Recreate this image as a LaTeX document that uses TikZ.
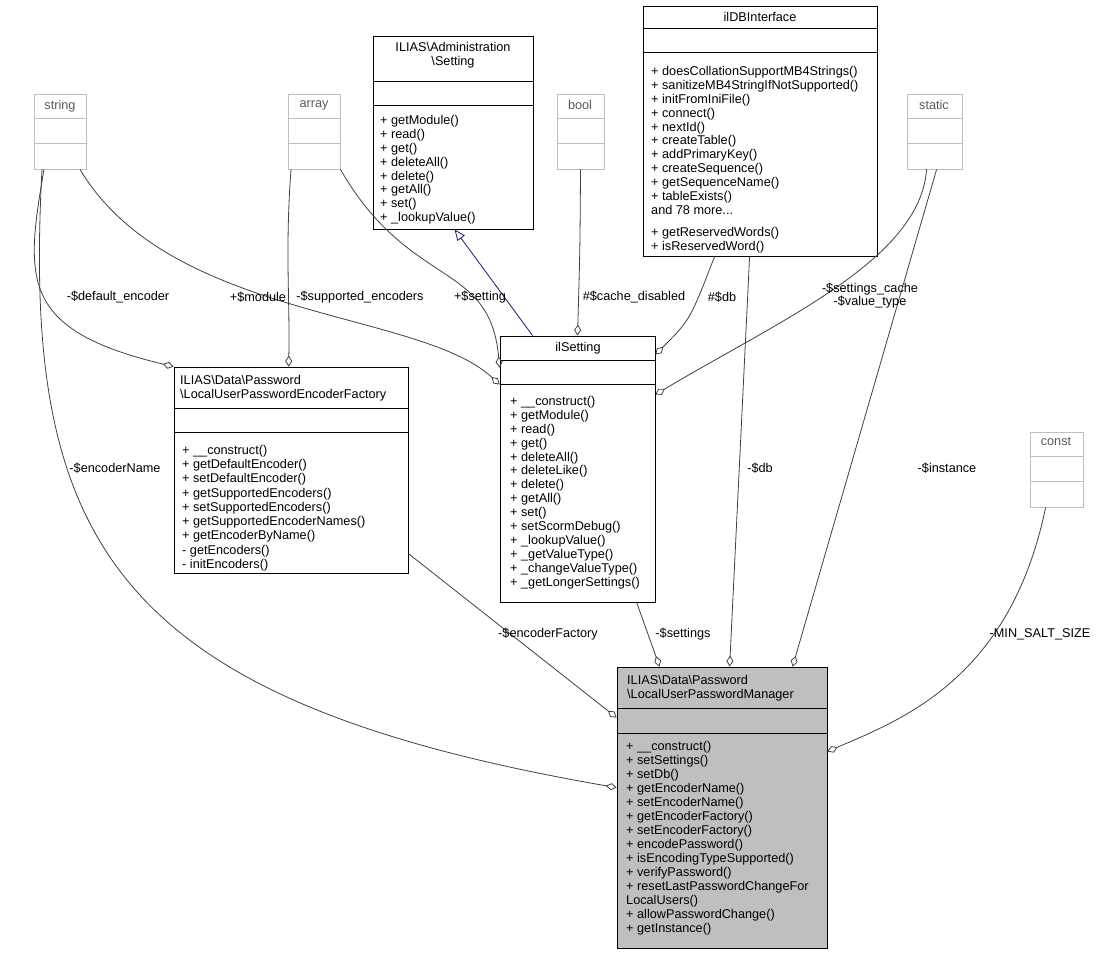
\documentclass[tikz,border=0pt]{standalone}
\usepackage{fontspec}
\setmainfont{Liberation Sans}
\usetikzlibrary{arrows.meta,fit}
\definecolor{edge}{HTML}{404040}
\definecolor{gbord}{HTML}{BFBFBF}
\definecolor{navyc}{HTML}{191970}
\begin{document}
\begin{tikzpicture}[x=1pt,y=-1pt,
  txt/.style={inner sep=0pt,font=\fontsize{12.7}{13.9}\selectfont,align=left},
  lbl/.style={inner sep=1pt,font=\fontsize{12.7}{13}\selectfont,align=center},
  box/.style={draw=black,inner sep=0pt,line width=0.8pt},
  gbox/.style={draw=gbord,inner sep=0pt,line width=0.8pt},
  ed/.style={draw=edge,line width=0.8pt,-{Diamond[open,length=11pt,width=7pt,line width=0.8pt]}},
]
\useasboundingbox (0,0) rectangle (1101,955);
% ---- classes
\newcommand\umlbox[8]{%
  \node[#8,fit={(#2,#3)(#4,#5)}] (#1) {};
  \draw[#8] (#2,#6) -- (#4,#6);
  \draw[#8] (#2,#7) -- (#4,#7);}
\umlbox{string}{34}{94}{86}{169}{118}{143}{gbox}
\node[txt,text=gray!70!black,anchor=north] at (60,100) {string};
\umlbox{array}{288}{94}{340}{169}{118}{143}{gbox}
\node[txt,text=gray!70!black,anchor=north] at (314,100) {array};
\umlbox{bool}{557}{94}{604}{169}{118}{143}{gbox}
\node[txt,text=gray!70!black,anchor=north] at (580,100) {bool};
\umlbox{static}{907}{94}{962}{169}{118}{143}{gbox}
\node[txt,text=gray!70!black,anchor=north] at (934,100) {static};
\umlbox{const}{1030}{432}{1083}{507}{456}{481}{gbox}
\node[txt,text=gray!70!black,anchor=north] at (1056,437) {const};

\umlbox{admset}{373}{36}{533}{229}{81}{105}{box}
\node[txt,anchor=north,align=center] at (453,42) {ILIAS\textbackslash Administration\\\textbackslash Setting};
\node[txt,anchor=north west] at (380,115) {+ getModule()\\+ read()\\+ get()\\+ deleteAll()\\+ delete()\\+ getAll()\\+ set()\\+ \_lookupValue()};

\umlbox{db}{643}{6}{877}{256}{28}{52}{box}
\node[txt,anchor=north] at (760,12) {ilDBInterface};
\node[txt,anchor=north west] at (651,66) {+ doesCollationSupportMB4Strings()\\+ sanitizeMB4StringIfNotSupported()\\+ initFromIniFile()\\+ connect()\\+ nextId()\\+ createTable()\\+ addPrimaryKey()\\+ createSequence()\\+ getSequenceName()\\+ tableExists()\\and 78 more...};
\node[txt,anchor=north west] at (651,227) {+ getReservedWords()\\+ isReservedWord()};

\umlbox{ilset}{500}{336}{655}{602}{360}{384}{box}
\node[txt,anchor=north] at (578,342) {ilSetting};
\node[txt,anchor=north west] at (510,396) {+ \_\_construct()\\+ getModule()\\+ read()\\+ get()\\+ deleteAll()\\+ deleteLike()\\+ delete()\\+ getAll()\\+ set()\\+ setScormDebug()\\+ \_lookupValue()\\+ \_getValueType()\\+ \_changeValueType()\\+ \_getLongerSettings()};

\umlbox{fac}{174}{367}{408}{573}{408}{432}{box}
\node[txt,anchor=north west] at (180,375) {ILIAS\textbackslash Data\textbackslash Password\\\textbackslash LocalUserPasswordEncoderFactory};
\node[txt,anchor=north west,font=\fontsize{12.7}{14.25}\selectfont] at (182,445) {+ \_\_construct()\\+ getDefaultEncoder()\\+ setDefaultEncoder()\\+ getSupportedEncoders()\\+ setSupportedEncoders()\\+ getSupportedEncoderNames()\\+ getEncoderByName()\\- getEncoders()\\- initEncoders()};

\node[box,fill=gbord,fit={(617,667)(827,948)}] (mgr) {};
\draw[box] (617,708) -- (827,708);
\draw[box] (617,733) -- (827,733);
\node[txt,anchor=north west] at (627,675) {ILIAS\textbackslash Data\textbackslash Password\\\textbackslash LocalUserPasswordManager};
\node[txt,anchor=north west,font=\fontsize{12.7}{14}\selectfont] at (626,741) {+ \_\_construct()\\+ setSettings()\\+ setDb()\\+ getEncoderName()\\+ setEncoderName()\\+ getEncoderFactory()\\+ setEncoderFactory()\\+ encodePassword()\\+ isEncodingTypeSupported()\\+ verifyPassword()\\+ resetLastPasswordChangeFor\\LocalUsers()\\+ allowPasswordChange()\\+ getInstance()};

% ---- edges
\draw[ed] ([xshift=-18pt]string.south) .. controls (22,540) and (110,700) .. ([yshift=-121pt]mgr.north west);
\draw[ed] ([xshift=-16pt]string.south) .. controls (25,280) and (20,330) .. (fac.north west);
\draw[ed] ([xshift=20pt]string.south) .. controls (170,320) and (420,310) .. ([yshift=-49pt]ilset.north west);
\draw[ed] ([xshift=-23pt]array.south) .. controls (285,250) and (290,300) .. ([xshift=115pt]fac.north west);
\draw[ed] (array.south east) .. controls (410,290) and (490,260) .. ([yshift=-32pt]ilset.north west);
\draw[navyc,line width=0.8pt,-{Triangle[open,length=11pt,width=9pt,line width=0.8pt]}] ([xshift=33pt]ilset.north west) -- ([xshift=82pt]admset.south west);
\draw[ed] (bool.south) .. controls (580,250) .. (ilset.north);
\draw[ed] ([xshift=72pt]db.south west) .. controls (690,320) .. ([yshift=-19pt]ilset.north east);
\draw[ed] ([xshift=20pt]static.south west) .. controls (920,260) and (780,320) .. ([yshift=-59pt]ilset.north east);
\draw[ed] ([xshift=107pt]db.south west) -- ([xshift=113pt]mgr.north west);
\draw[ed] ([xshift=30pt]static.south west) -- ([xshift=176pt]mgr.north west);
\draw[ed] ([xshift=16pt]const.south west) .. controls (1010,680) and (900,720) .. ([yshift=-85pt]mgr.north east);
\draw[ed] ([yshift=-187pt]fac.north east) -- ([yshift=-51pt]mgr.north west);
\draw[ed] ([xshift=137pt]ilset.south west) -- ([xshift=43pt]mgr.north west);

% ---- labels
\node[lbl] at (115,468) {-\$encoderName};
\node[lbl] at (118,297) {-\$default\_encoder};
\node[lbl] at (258,297) {+\$module};
\node[lbl] at (360,297) {-\$supported\_encoders};
\node[lbl] at (480,297) {+\$setting};
\node[lbl] at (634,297) {\#\$cache\_disabled};
\node[lbl] at (722,297) {\#\$db};
\node[lbl] at (870,296) {-\$settings\_cache\\-\$value\_type};
\node[lbl] at (760,468) {-\$db};
\node[lbl] at (947,468) {-\$instance};
\node[lbl] at (1040,634) {-MIN\_SALT\_SIZE};
\node[lbl] at (548,634) {-\$encoderFactory};
\node[lbl] at (683,634) {-\$settings};
\end{tikzpicture}
\end{document}
